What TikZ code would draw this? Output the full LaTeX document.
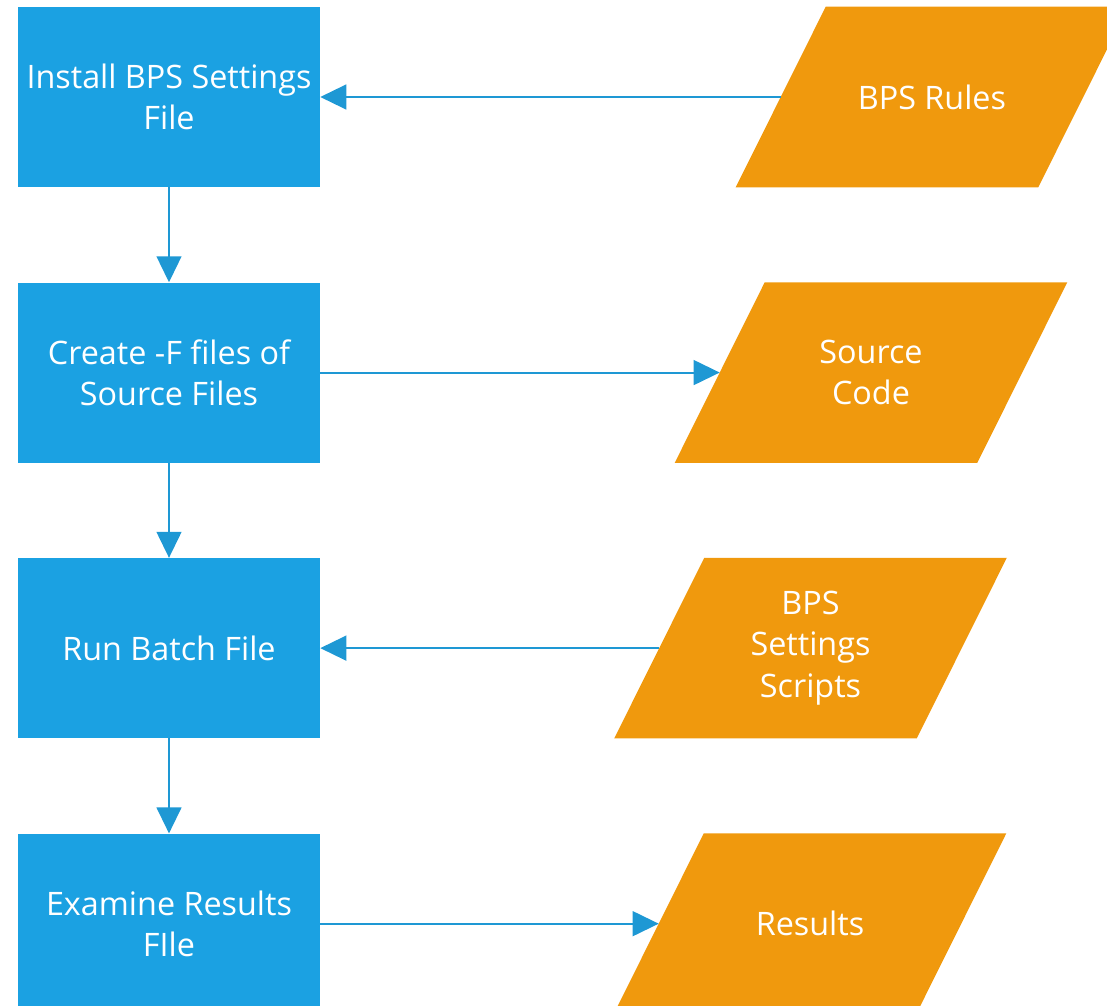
\documentclass[tikz,border=0pt]{standalone}
\usepackage{fontspec}
\setmainfont{Open Sans}
\usetikzlibrary{arrows.meta,backgrounds,positioning}

\definecolor{stepblue}{HTML}{1BA1E2}
\definecolor{lineblue}{HTML}{1E98D4}
\definecolor{dataorange}{HTML}{F0990D}

\begin{document}
\begin{tikzpicture}[
  font=\fontsize{23}{29.2}\selectfont,
  process/.style={fill=stepblue, text=white, minimum width=7.55cm, minimum height=4.5cm,
    align=center, inner sep=0pt},
  data/.style={text=white, minimum width=7.55cm, minimum height=4.5cm,
    align=center, inner sep=0pt},
  flow/.style={lineblue, line width=1.4pt, -{Triangle[length=0.65cm,width=0.62cm]}}
]
\useasboundingbox (0,0) rectangle (27.675,-25.15);

% Process steps, left column.
\node[process] (install) at (4.225,-2.425) {Install BPS Settings\\File};
\node[process, below=2.375cm of install] (create) {Create -F files of\\Source Files};
\node[process, below=2.375cm of create] (run) {Run Batch File};
\node[process, below=2.375cm of run] (examine) {Examine Results\\FIle};

% Data items, right column, level with their steps.
\node[data] (rules) at (23.3,0 |- install) {BPS Rules};
\node[data] (source) at (21.775,0 |- create) {Source\\Code};
\node[data] (scripts) at (20.2625,0 |- run) {BPS\\Settings\\Scripts};
\node[data] (results) at (20.25,0 |- examine) {Results};

% Slanted data shapes behind the text.
\begin{scope}[on background layer]
  \foreach \n in {rules,source,scripts,results}
    \fill[dataorange] ([xshift=-1.125cm]\n.south west) -- ([xshift=-1.125cm]\n.south east)
      -- ([xshift=1.125cm]\n.north east) -- ([xshift=1.125cm]\n.north west) -- cycle;
\end{scope}

% Flow down the column.
\draw[flow] (install) -- (create);
\draw[flow] (create) -- (run);
\draw[flow] (run) -- (examine);

% Data links.
\draw[flow] (rules.west) -- (install.east);
\draw[flow] (create.east) -- (source.west);
\draw[flow] (scripts.west) -- (run.east);
\draw[flow] (examine.east) -- (results.west);

\end{tikzpicture}
\end{document}
